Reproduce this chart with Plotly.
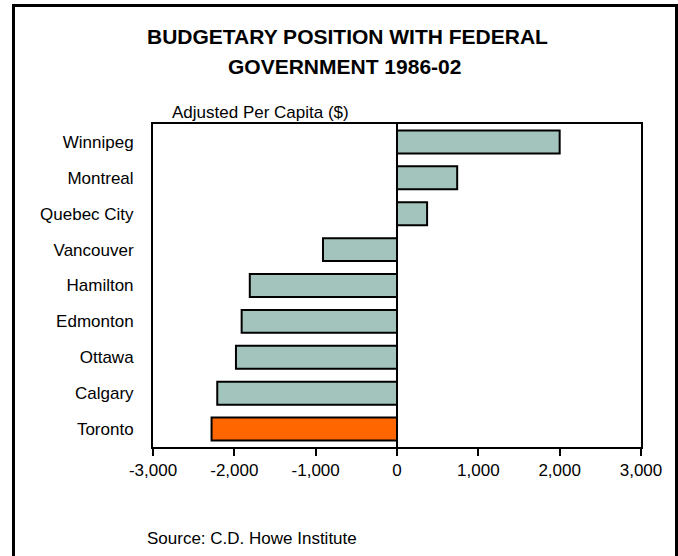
import plotly.graph_objects as go

# Budgetary position with the federal government, adjusted per capita ($)
cities = ["Winnipeg", "Montreal", "Quebec City", "Vancouver", "Hamilton",
          "Edmonton", "Ottawa", "Calgary", "Toronto"]
values = [2000, 740, 370, -910, -1810, -1910, -1980, -2210, -2280]
highlight = "Toronto"

tick_vals = [-3000, -2000, -1000, 0, 1000, 2000, 3000]
tick_text = ["-3,000", "-2,000", "-1,000", "0", "1,000", "2,000", "3,000"]

W, H = 678, 556
ML, MR, MT, MB = 153, 37, 124, 109
PW, PH = W - ML - MR, H - MT - MB
FONT = "Liberation Sans, Arial, sans-serif"


def px_x(x):
    return (x - ML) / PW


def px_y(y):
    return (H - MB - y) / PH


colors = ["#FF6600" if c == highlight else "#A3C4BC" for c in cities]

fig = go.Figure(go.Bar(
    x=values, y=cities, orientation="h",
    marker=dict(color=colors, line=dict(color="black", width=2)),
    hoverinfo="x+y",
))

fig.update_layout(
    width=W, height=H,
    margin=dict(l=ML, r=MR, t=MT, b=MB, pad=0),
    paper_bgcolor="white", plot_bgcolor="white",
    font=dict(family=FONT, size=17, color="black"),
    showlegend=False,
    bargap=0.36,
    xaxis=dict(
        range=[-3000, 3000], tickvals=tick_vals, ticktext=tick_text,
        showgrid=False, zeroline=True, zerolinecolor="black", zerolinewidth=2,
        showline=True, mirror=True, linecolor="black", linewidth=2,
        ticks="outside", ticklen=7, tickwidth=2, tickcolor="black",
        tickfont=dict(size=17), fixedrange=True,
    ),
    yaxis=dict(
        categoryorder="array", categoryarray=cities, autorange="reversed",
        showgrid=False, showline=True, mirror=True, linecolor="black",
        linewidth=2, ticks="", ticklabelstandoff=14,
        tickfont=dict(size=17), fixedrange=True,
    ),
    annotations=[
        dict(text="<b>BUDGETARY POSITION WITH FEDERAL</b>", xref="paper", yref="paper",
             x=px_x(347), y=px_y(36.5), xanchor="center", yanchor="middle",
             showarrow=False, font=dict(size=21)),
        dict(text="<b>GOVERNMENT 1986-02</b>", xref="paper", yref="paper",
             x=px_x(344), y=px_y(66.5), xanchor="center", yanchor="middle",
             showarrow=False, font=dict(size=21)),
        dict(text="Adjusted Per Capita ($)", xref="paper", yref="paper",
             x=px_x(170), y=px_y(112), xanchor="left", yanchor="middle",
             showarrow=False, font=dict(size=17)),
        dict(text="Source: C.D. Howe Institute", xref="paper", yref="paper",
             x=px_x(145), y=px_y(538), xanchor="left", yanchor="middle",
             showarrow=False, font=dict(size=17)),
    ],
    shapes=[
        dict(type="rect", xref="paper", yref="paper",
             x0=px_x(13.5), x1=px_x(676.5), y0=px_y(570), y1=px_y(5.5),
             line=dict(color="black", width=3), fillcolor="rgba(0,0,0,0)",
             layer="above"),
    ],
)

fig.write_html("out.html", config={"displayModeBar": False})
